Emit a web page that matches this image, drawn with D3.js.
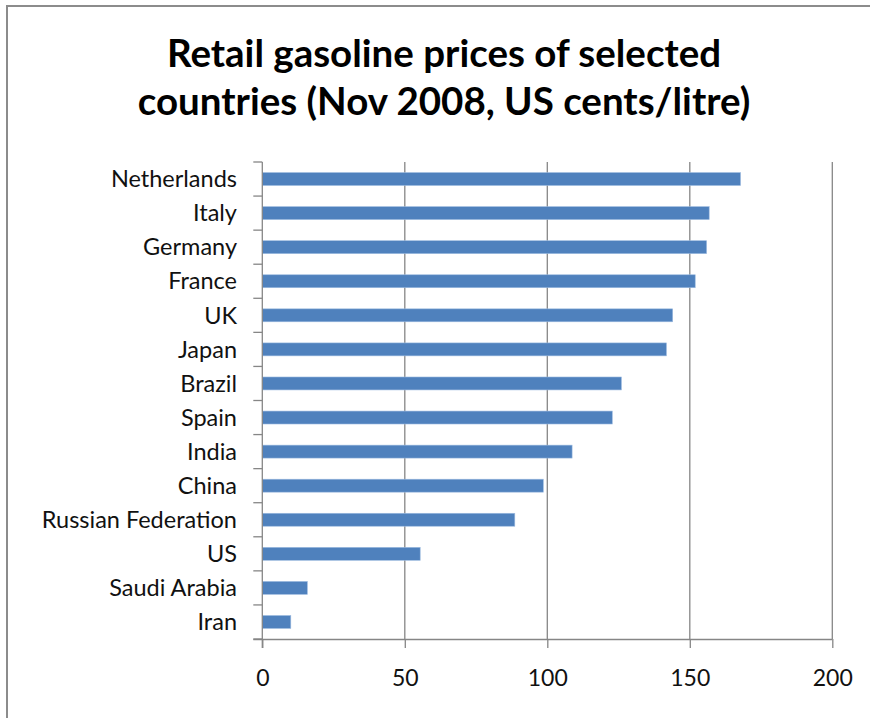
<!DOCTYPE html>
<html>
<head>
<meta charset="utf-8">
<script src="https://cdn.jsdelivr.net/npm/d3@7"></script>
<style>
  html, body { margin: 0; padding: 0; background: #ffffff; }
  svg { display: block; }
</style>
</head>
<body>
<svg id="chart" width="870" height="718"></svg>
<script>
const categories = ["Netherlands", "Italy", "Germany", "France", "UK", "Japan", "Brazil", "Spain", "India", "China", "Russian Federation", "US", "Saudi Arabia", "Iran"];
const prices = [167.8, 156.8, 155.9, 151.9, 144.0, 141.8, 126.0, 122.8, 108.7, 98.6, 88.6, 55.4, 15.8, 10.0];
const xTicks = [0, 50, 100, 150, 200];
const titleLines = ["Retail gasoline prices of selected", "countries (Nov 2008, US cents/litre)"];

const svg = d3.select("#chart");
const FONT = "Lato, 'Open Sans', sans-serif";
const gridColor = "#868686";

// outer frame
svg.append("rect")
  .attr("x", 7).attr("y", 6).attr("width", 880).attr("height", 730)
  .attr("fill", "#fff").attr("stroke", "#8c8c8c").attr("stroke-width", 2);

const plot = { left: 262.3, right: 832.3, top: 162, bottom: 639 };

const x = d3.scaleLinear().domain([0, 200]).range([plot.left, plot.right]);
const y = d3.scaleBand().domain(categories).range([plot.top, plot.bottom])
  .paddingInner(0.62).paddingOuter(0.31);

// title
svg.append("g").selectAll("text").data(titleLines).join("text")
  .attr("x", 444).attr("y", (d, i) => 67 + i * 48)
  .attr("text-anchor", "middle")
  .attr("font-family", FONT).attr("font-weight", "bold")
  .attr("font-size", 38.5).attr("fill", "#000")
  .text(d => d);

// vertical gridlines
svg.append("g").selectAll("line").data(xTicks.slice(1)).join("line")
  .attr("x1", d => x(d)).attr("x2", d => x(d))
  .attr("y1", plot.top).attr("y2", plot.bottom)
  .attr("stroke", gridColor).attr("stroke-width", 1.3);

// bars
svg.append("g").selectAll("rect").data(categories).join("rect")
  .attr("x", x(0))
  .attr("y", d => y(d))
  .attr("width", (d, i) => x(prices[i]) - x(0))
  .attr("height", y.bandwidth())
  .attr("fill", "#4f81bd")
  .attr("stroke", "#9dbbe0").attr("stroke-width", 0.6);

// x axis
const xAxis = d3.axisBottom(x).tickValues(xTicks).tickSize(9).tickPadding(22);
const gx = svg.append("g").attr("transform", `translate(0,${plot.bottom})`).call(xAxis);
gx.select(".domain").attr("stroke", gridColor).attr("stroke-width", 1.3)
  .attr("d", `M${plot.left - 9},0.5H${plot.right}`);
gx.selectAll(".tick line").attr("stroke", gridColor).attr("stroke-width", 1.3);
gx.selectAll(".tick text").attr("font-family", FONT).attr("font-size", 23).attr("fill", "#111");

// y axis: domain + tick marks at band boundaries
const step = y.step();
const boundaries = d3.range(categories.length + 1).map(i => plot.top + i * step);
svg.append("line")
  .attr("x1", plot.left).attr("x2", plot.left)
  .attr("y1", plot.top).attr("y2", plot.bottom + 9)
  .attr("stroke", gridColor).attr("stroke-width", 1.3);
svg.append("g").selectAll("line").data(boundaries).join("line")
  .attr("x1", plot.left - 9).attr("x2", plot.left)
  .attr("y1", d => d).attr("y2", d => d)
  .attr("stroke", gridColor).attr("stroke-width", 1.3);

// category labels
svg.append("g").selectAll("text").data(categories).join("text")
  .attr("x", 237)
  .attr("y", d => y(d) + y.bandwidth() / 2)
  .attr("dy", "0.35em")
  .attr("text-anchor", "end")
  .attr("font-family", FONT).attr("font-size", 23.5).attr("fill", "#111")
  .text(d => d);
</script>
</body>
</html>
